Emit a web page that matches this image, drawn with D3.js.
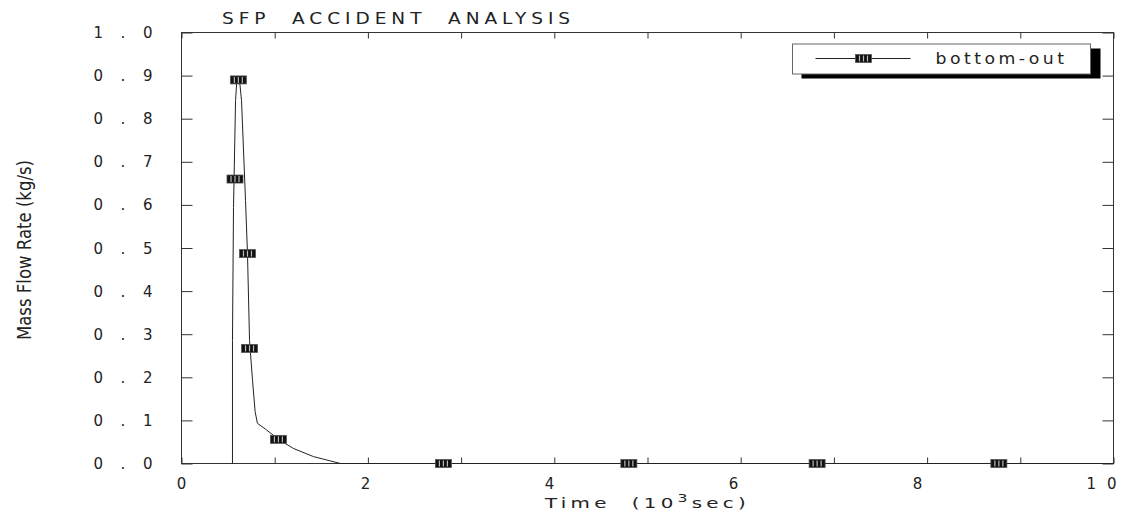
<!DOCTYPE html>
<html>
<head>
<meta charset="utf-8">
<script src="https://cdn.jsdelivr.net/npm/d3@7"></script>
<style>
  body { margin: 0; background: #fff; }
  text { font-family: "DejaVu Sans", sans-serif; fill: #222; white-space: pre; }
</style>
</head>
<body>
<div id="chart"></div>
<script>
// curve of the bottom-out mass flow (time in 10^3 s, flow in kg/s)
var curveTime = [0.547, 0.547, 0.558, 0.58, 0.595, 0.62, 0.644, 0.687, 0.708, 0.73, 0.762, 0.79, 0.815, 0.9, 1.04, 1.2, 1.416, 1.706, 10];
var curveFlow = [0, 0.285, 0.594, 0.842, 0.893, 0.895, 0.842, 0.61, 0.487, 0.285, 0.193, 0.12, 0.093, 0.08, 0.056, 0.035, 0.016, 0, 0];

// where the symbols sit
var markTime = [0.61, 0.574, 0.708, 0.73, 1.04, 2.81, 4.8, 6.82, 8.77];
var markFlow = [0.89, 0.66, 0.487, 0.267, 0.056, 0, 0, 0, 0];

var xTicks = [0, 2, 4, 6, 8, 10];
var yTicks = [0, 0.1, 0.2, 0.3, 0.4, 0.5, 0.6, 0.7, 0.8, 0.9, 1.0];
var seriesName = "bottom-out";

var margin = {top: 32.5, right: 12.5, bottom: 65, left: 181.5},
    width = 932,
    height = 431;

var svg = d3.select("#chart")
  .append("svg")
  .attr("width", 1126)
  .attr("height", 528)
  .append("g")
  .attr("transform", "translate(" + margin.left + "," + margin.top + ")");

var x = d3.scaleLinear().domain([0, 10]).range([0, width]);
// the labels of the old plot run a little short of the ticks
var xLab = d3.scaleLinear().domain([0, 10]).range([0, width - 12]);
var y = d3.scaleLinear().domain([0, 1]).range([height, 0]);

// frame
svg.append("rect")
  .attr("width", width).attr("height", height)
  .attr("fill", "none").attr("stroke", "#333").attr("stroke-width", 1);

// ticks pointing inwards, all four sides
svg.append("g")
  .attr("transform", "translate(0," + height + ")")
  .call(d3.axisTop(x).ticks(10).tickSize(6).tickFormat(""))
  .call(g => g.select(".domain").remove());
svg.append("g")
  .call(d3.axisBottom(x).ticks(10).tickSize(6).tickFormat(""))
  .call(g => g.select(".domain").remove());
svg.append("g")
  .call(d3.axisRight(y).tickValues(yTicks).tickSize(11).tickFormat(""))
  .call(g => g.select(".domain").remove());
svg.append("g")
  .attr("transform", "translate(" + width + ",0)")
  .call(d3.axisLeft(y).tickValues(yTicks).tickSize(11).tickFormat(""))
  .call(g => g.select(".domain").remove());
svg.selectAll(".tick line").attr("stroke", "#333");

// tick labels
svg.selectAll(".xlab")
  .data(xTicks)
  .enter().append("text")
  .attr("x", d => xLab(d))
  .attr("y", height + 25)
  .attr("text-anchor", "middle")
  .attr("font-size", 15)
  .attr("textLength", d => d >= 10 ? 30 : null)
  .attr("lengthAdjust", "spacing")
  .text(d => d);

svg.selectAll(".ylab")
  .data(yTicks)
  .enter().append("text")
  .attr("x", -29)
  .attr("y", d => y(d) + 5.5)
  .attr("text-anchor", "end")
  .attr("font-size", 15)
  .attr("textLength", 59)
  .attr("lengthAdjust", "spacing")
  .text(d => d.toFixed(1));

// titles
svg.append("text")
  .attr("x", 40.5)
  .attr("y", -8.5)
  .attr("font-size", 15)
  .attr("letter-spacing", 4)
  .attr("textLength", 353)
  .attr("lengthAdjust", "spacingAndGlyphs")
  .text("SFP  ACCIDENT  ANALYSIS");

var xt = svg.append("text")
  .attr("x", 363.5)
  .attr("y", height + 44.5)
  .attr("font-size", 14)
  .attr("letter-spacing", 3)
  .attr("textLength", 205)
  .attr("lengthAdjust", "spacingAndGlyphs");
xt.append("tspan").text("Time  (10");
xt.append("tspan").attr("dy", -6).attr("font-size", 11).text("3");
xt.append("tspan").attr("dy", 6).text("sec)");

svg.append("text")
  .attr("transform", "translate(-151," + 217.5 + ") rotate(-90)")
  .attr("x", 0)
  .attr("y", 0)
  .attr("text-anchor", "middle")
  .attr("font-family", "'Liberation Sans', sans-serif")
  .attr("font-size", 20)
  .attr("textLength", 180)
  .attr("lengthAdjust", "spacingAndGlyphs")
  .text("Mass Flow Rate (kg/s)");

// the curve
var pts = curveTime.map((t, i) => [t, curveFlow[i]]);
var line = d3.line().x(d => x(d[0])).y(d => y(d[1]));
svg.append("path")
  .datum(pts)
  .attr("d", line)
  .attr("fill", "none")
  .attr("stroke", "#222")
  .attr("stroke-width", 1);

// striped box symbol
function drawMark(g) {
  g.append("rect")
    .attr("x", -8).attr("y", -4)
    .attr("width", 16).attr("height", 8)
    .attr("fill", "#111").attr("stroke", "#555").attr("stroke-width", 0.8);
  [-4, 0, 4].forEach(function(dx) {
    g.append("line")
      .attr("x1", dx).attr("x2", dx)
      .attr("y1", -3).attr("y2", 3)
      .attr("stroke", "#bbb").attr("stroke-width", 1.2);
  });
}

var marks = markTime.map((t, i) => [t, markFlow[i]]);
svg.selectAll(".mark")
  .data(marks)
  .enter().append("g")
  .attr("class", "mark")
  .attr("transform", d => "translate(" + x(d[0]) + "," + y(d[1]) + ")")
  .each(function() { drawMark(d3.select(this)); });

// legend with drop shadow
var leg = svg.append("g").attr("transform", "translate(" + (width - 321) + ",11.5)");
leg.append("rect")
  .attr("x", 9).attr("y", 4.5)
  .attr("width", 299).attr("height", 30)
  .attr("fill", "#000");
leg.append("rect")
  .attr("x", 0).attr("y", 0)
  .attr("width", 298).attr("height", 30)
  .attr("fill", "#fff").attr("stroke", "#666").attr("stroke-width", 1);
leg.append("line")
  .attr("x1", 23).attr("x2", 118)
  .attr("y1", 14.5).attr("y2", 14.5)
  .attr("stroke", "#222");
leg.append("g")
  .attr("transform", "translate(71,14.5)")
  .call(drawMark);
leg.append("text")
  .attr("x", 143)
  .attr("y", 19.5)
  .attr("font-size", 15)
  .attr("letter-spacing", 3)
  .attr("textLength", 132)
  .attr("lengthAdjust", "spacingAndGlyphs")
  .text(seriesName);
</script>
</body>
</html>
